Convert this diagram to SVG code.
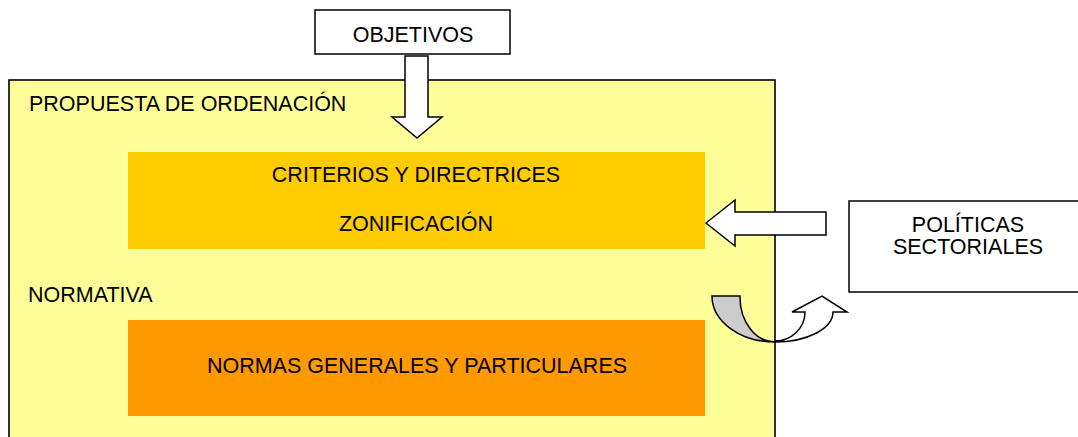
<svg xmlns="http://www.w3.org/2000/svg" width="1078" height="437" viewBox="0 0 1078 437">
<style>
text{font-family:"Liberation Sans",Arial,sans-serif;font-size:21.5px;fill:#000}
.c{text-anchor:middle}
.box{fill:#fff;stroke:#000;stroke-width:1.5}
.arr{fill:#fff;stroke:#000;stroke-width:1.5;stroke-linejoin:miter}
</style>
<rect width="1078" height="437" fill="#fff"/>
<g id="propuesta">
<rect x="9" y="80" width="766" height="370" fill="#FFFF99" stroke="#000" stroke-width="1.6"/>
<text x="29" y="111">PROPUESTA DE ORDENACIÓN</text>
<text x="28" y="302">NORMATIVA</text>
</g>
<g id="criterios">
<rect x="128" y="152" width="577" height="97" fill="#FFCC00"/>
<text class="c" x="416" y="182">CRITERIOS Y DIRECTRICES</text>
<text class="c" x="416" y="231">ZONIFICACIÓN</text>
</g>
<g id="normas">
<rect x="128" y="320" width="577" height="96" fill="#FF9900"/>
<text class="c" x="417" y="373">NORMAS GENERALES Y PARTICULARES</text>
</g>
<g id="objetivos">
<rect class="box" x="315" y="10" width="195" height="44"/>
<text class="c" x="413" y="42">OBJETIVOS</text>
</g>
<g id="politicas">
<rect class="box" x="849" y="201" width="240" height="91"/>
<text class="c" x="968" y="232">POLÍTICAS</text>
<text class="c" x="968" y="254">SECTORIALES</text>
</g>
<g id="connectors">
<polygon class="arr" points="405,56 428,56 428,117 442,117 417,138 392,117 405,117"/>
<polygon class="arr" points="706,223 735,200 735,212 826,212 826,235 735,235 735,246"/>
<path d="M712,296 A63,46 0 0 0 775,342 A35,45 0 0 1 740,296 Z" fill="#CCCCCC" stroke="#000" stroke-width="1.5"/>
<path class="arr" d="M775,342 A58,30 0 0 0 833,312 L847,312 L822,296 L792,312 L805,312 A30,29 0 0 1 775,341 Z"/>
</g>
</svg>
